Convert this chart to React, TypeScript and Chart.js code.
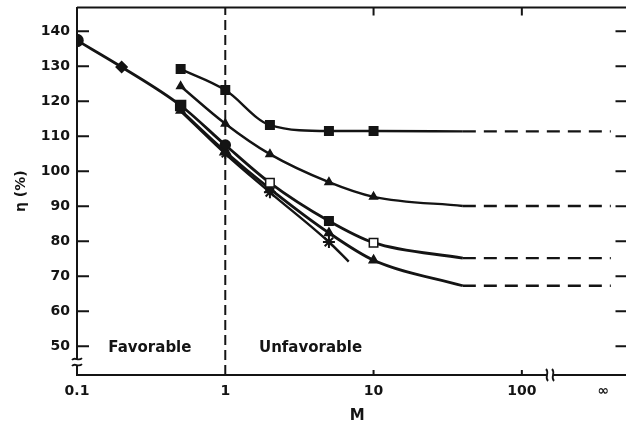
import React, { useEffect, useRef } from 'react';
import { Chart, registerables } from 'chart.js';
Chart.register(...registerables);

// ---- data (M values, η in %) ----
const M_A = [0.5, 1, 2, 5, 10, 40];
const ETA_A = [129.2, 123.2, 113.2, 111.5, 111.5, 111.4];
const M_B = [0.5, 1, 2, 5, 10, 40];
const ETA_B = [124.3, 113.6, 104.9, 96.9, 92.7, 90.1];
const M_C = [0.1, 0.2, 0.5, 1, 2, 5, 10, 40];
const ETA_C = [137.4, 129.8, 118.8, 107.5, 96.7, 85.8, 79.6, 75.2];
const M_D = [0.5, 1, 2, 5, 10, 40];
const ETA_D = [117.4, 105.6, 95.0, 82.4, 74.6, 67.3];
const M_E = [0.5, 1, 2, 5, 6.8];
const ETA_E = [117.2, 105.0, 94.0, 79.8, 74.2];
const ASYMPTOTE_START_M = 40;
const ASYMPTOTES = [111.4, 90.1, 75.2, 67.3];

const X_TICK_M = [0.1, 1, 10, 100, Infinity];
const X_TICK_LABELS = ['0.1', '1', '10', '100', '∞'];
const Y_TICKS = [50, 60, 70, 80, 90, 100, 110, 120, 130, 140];
const REGION_LABELS = ['Favorable', 'Unfavorable'];
const REGION_LABEL_M = [0.31, 3.76];
const REGION_LABEL_ETA = 49.5;

const INF_X = 2.55; // log-position where "∞" sits
const X_MIN = -1;
const X_MAX = 2.78;
const Y_MIN = 41.8;
const Y_MAX = 146.8;
const INK = '#141414';
const FONT = '"DejaVu Sans", "Liberation Sans", sans-serif';

const toX = (m: number) => (m === Infinity ? INF_X : Math.log10(m));
const pts = (ms: number[], ys: number[]) => ms.map((m, i) => ({ x: toX(m), y: ys[i] }));

const decorPlugin = {
  id: 'decor',
  afterDatasetsDraw(chart: any) {
    const { ctx, chartArea: ca, scales } = chart;
    const x = scales.x;
    const y = scales.y;
    ctx.save();
    ctx.strokeStyle = INK;
    ctx.fillStyle = INK;
    ctx.lineWidth = 2;
    // top + right border
    ctx.beginPath();
    ctx.moveTo(ca.left, ca.top);
    ctx.lineTo(ca.right, ca.top);
    ctx.lineTo(ca.right, ca.bottom);
    ctx.stroke();
    // inward y ticks
    for (const v of Y_TICKS) {
      const py = y.getPixelForValue(v);
      ctx.beginPath();
      ctx.moveTo(ca.left, py);
      ctx.lineTo(ca.left + 12, py);
      ctx.moveTo(ca.right - 22, py);
      ctx.lineTo(ca.right, py);
      ctx.stroke();
    }
    // inward x ticks at 10 and 100
    for (const m of [10, 100]) {
      const px = x.getPixelForValue(toX(m));
      ctx.beginPath();
      ctx.moveTo(px, ca.bottom);
      ctx.lineTo(px, ca.bottom - 5);
      ctx.moveTo(px, ca.top);
      ctx.lineTo(px, ca.top + 8);
      ctx.stroke();
    }
    // y-axis break
    const by = y.getPixelForValue(45.5);
    ctx.fillStyle = '#fff';
    ctx.fillRect(ca.left - 3, by - 3, 6, 6);
    ctx.lineWidth = 1.8;
    for (const dy of [-3, 3]) {
      ctx.beginPath();
      ctx.moveTo(ca.left - 5, by + dy + 1);
      ctx.bezierCurveTo(ca.left - 2, by + dy - 3, ca.left + 1, by + dy + 3, ca.left + 5, by + dy - 1);
      ctx.stroke();
    }
    // x-axis break
    const bx = x.getPixelForValue(2.19);
    ctx.fillStyle = '#fff';
    ctx.fillRect(bx - 3, ca.bottom - 3, 6, 6);
    for (const dx of [-3, 3]) {
      ctx.beginPath();
      ctx.moveTo(bx + dx - 1, ca.bottom - 6);
      ctx.bezierCurveTo(bx + dx + 3, ca.bottom - 2, bx + dx - 3, ca.bottom + 2, bx + dx + 1, ca.bottom + 6);
      ctx.stroke();
    }
    // region labels
    ctx.fillStyle = INK;
    ctx.font = `bold 15px ${FONT}`;
    ctx.textAlign = 'center';
    ctx.textBaseline = 'middle';
    REGION_LABELS.forEach((t, i) => {
      ctx.fillText(t, x.getPixelForValue(toX(REGION_LABEL_M[i])), y.getPixelForValue(REGION_LABEL_ETA));
    });
    ctx.restore();
  },
};

export default function App() {
  const ref = useRef<HTMLCanvasElement>(null);
  useEffect(() => {
    document.body.style.margin = '0';
    const solid = {
      borderColor: INK,
      backgroundColor: INK,
      borderWidth: 2.4,
      cubicInterpolationMode: 'monotone' as const,
      pointBorderColor: INK,
      pointBorderWidth: 1.5,
    };
    const lastHidden = (n: number, r: number) => Array.from({ length: n }, (_, i) => (i === n - 1 ? 0 : r));
    const datasets: any[] = [
      {
        ...solid,
        data: pts(M_A, ETA_A),
        pointStyle: 'rect',
        pointRadius: lastHidden(M_A.length, 6),
        pointBackgroundColor: INK,
      },
      {
        ...solid,
        data: pts(M_B, ETA_B),
        pointStyle: 'triangle',
        pointRadius: lastHidden(M_B.length, 4.5),
        pointBackgroundColor: INK,
      },
      {
        ...solid,
        borderWidth: 2.8,
        data: pts(M_C, ETA_C),
        pointStyle: ['circle', 'rectRot', 'rect', 'circle', 'rect', 'rect', 'rect', 'circle'],
        pointRadius: [6, 5.5, 7, 5, 6, 6, 6, 0],
        pointBackgroundColor: [INK, INK, INK, INK, '#fff', INK, '#fff', INK],
      },
      {
        ...solid,
        borderWidth: 2.8,
        data: pts(M_D, ETA_D),
        pointStyle: 'triangle',
        pointRadius: [5, 6, 5, 5, 5, 0],
        pointBackgroundColor: INK,
      },
      {
        ...solid,
        data: pts(M_E, ETA_E),
        pointStyle: 'star',
        pointRadius: [0, 5, 6, 6, 0],
        pointBorderWidth: 2,
      },
      ...ASYMPTOTES.map((v) => ({
        borderColor: INK,
        borderWidth: 2.4,
        borderDash: [13, 8],
        pointRadius: 0,
        data: [
          { x: toX(ASYMPTOTE_START_M), y: v },
          { x: INF_X + 0.05, y: v },
        ],
      })),
      {
        borderColor: INK,
        borderWidth: 2,
        borderDash: [10, 5],
        pointRadius: 0,
        data: [
          { x: toX(1), y: Y_MIN },
          { x: toX(1), y: Y_MAX },
        ],
      },
    ];
    const chart = new Chart(ref.current!, {
      type: 'line',
      data: { datasets },
      plugins: [decorPlugin],
      options: {
        animation: false,
        responsive: false,
        devicePixelRatio: 1,
        layout: { padding: { top: 7, right: 6, left: 0, bottom: 0 } },
        plugins: { legend: { display: false }, tooltip: { enabled: false } },
        scales: {
          x: {
            type: 'linear',
            min: X_MIN,
            max: X_MAX,
            afterFit: (s: any) => {
              s.height = 58;
              s.paddingLeft = 0;
              s.paddingRight = 0;
            },
            afterBuildTicks: (s: any) => {
              s.ticks = X_TICK_M.map((m) => ({ value: toX(m) }));
            },
            grid: { display: false, drawTicks: false },
            border: { display: true, color: INK, width: 2 },
            ticks: {
              autoSkip: false,
              maxRotation: 0,
              padding: 8,
              color: INK,
              font: { family: FONT, weight: 'bold', size: 14 },
              callback: (_v: any, i: number) => X_TICK_LABELS[i],
            },
            title: {
              display: true,
              text: 'M',
              color: INK,
              font: { family: FONT, weight: 'bold', size: 15 },
              padding: { top: 0, bottom: 8 },
            },
          },
          y: {
            type: 'linear',
            min: Y_MIN,
            max: Y_MAX,
            afterFit: (s: any) => {
              s.width = 77;
              s.paddingTop = 0;
              s.paddingBottom = 0;
            },
            afterBuildTicks: (s: any) => {
              s.ticks = Y_TICKS.map((v) => ({ value: v }));
            },
            grid: { display: false, drawTicks: false },
            border: { display: true, color: INK, width: 2 },
            ticks: {
              padding: 7,
              color: INK,
              font: { family: FONT, weight: 'bold', size: 14 },
            },
            title: {
              display: true,
              text: 'η (%)',
              color: INK,
              font: { family: FONT, weight: 'bold', size: 14 },
              padding: { top: 13, bottom: 0 },
            },
          },
        },
      },
    } as any);
    return () => chart.destroy();
  }, []);
  return (
    <div style={{ width: 626, height: 433, overflow: 'hidden' }}>
      <canvas ref={ref} width={645} height={433} style={{ display: 'block' }} />
    </div>
  );
}
